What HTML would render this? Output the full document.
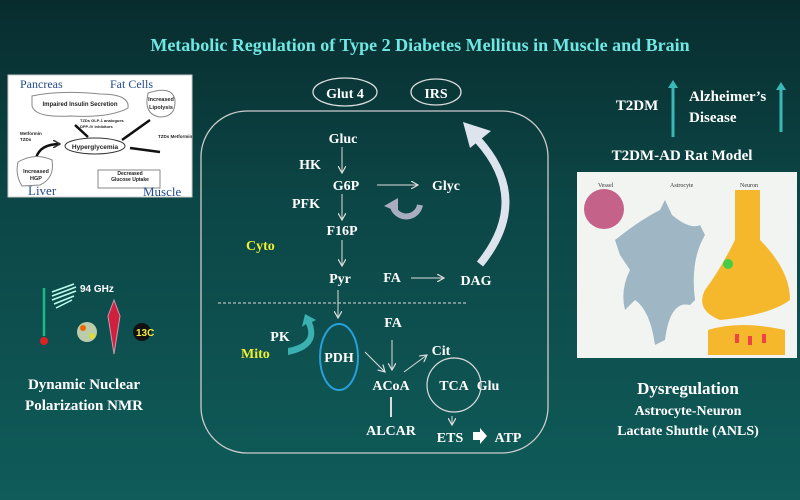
<!DOCTYPE html>
<html><head><meta charset="utf-8"><style>
html,body{margin:0;padding:0;width:800px;height:500px;overflow:hidden}
body{background:linear-gradient(180deg,#082c2e 0%,#0c4646 40%,#0f5c5a 100%)}
svg{display:block}
text{font-family:"Liberation Serif",serif;font-weight:bold;fill:#fff}
.s{font-family:"Liberation Sans",sans-serif}
</style></head><body>
<svg width="800" height="500" viewBox="0 0 800 500">
<defs>
<marker id="a" markerWidth="8" markerHeight="8" refX="7" refY="4" orient="auto" markerUnits="userSpaceOnUse"><path d="M0,0 L7,4 L0,8" fill="none" stroke="#ddd" stroke-width="1.2"/></marker>
<marker id="b" markerWidth="8" markerHeight="8" refX="7" refY="4" orient="auto" markerUnits="userSpaceOnUse"><path d="M0,0 L7,4 L0,8" fill="none" stroke="#333" stroke-width="1.5"/></marker>
</defs>
<text x="420" y="51" font-size="18" text-anchor="middle" style="fill:#6fe8e4">Metabolic Regulation of Type 2 Diabetes Mellitus in Muscle and Brain</text>

<!-- left image -->
<rect x="8" y="75" width="184" height="122" fill="#fff" stroke="#ccc"/>
<text x="20" y="88" font-size="12" style="fill:#234a8a;font-weight:normal">Pancreas</text>
<text x="110" y="88" font-size="12" style="fill:#234a8a;font-weight:normal">Fat Cells</text>
<path d="M32,96 Q60,90 100,94 Q130,94 128,108 Q110,118 70,116 Q35,118 32,106Z" fill="#fff" stroke="#888"/>
<text x="80" y="106" font-size="6" class="s" text-anchor="middle" style="fill:#222">Impaired Insulin Secretion</text>
<path d="M148,93 Q172,85 175,100 Q176,117 160,117 Q146,115 147,100Z" fill="#fff" stroke="#888"/>
<text x="161" y="101" font-size="5.5" class="s" text-anchor="middle" style="fill:#222">Increased</text>
<text x="161" y="109" font-size="5.5" class="s" text-anchor="middle" style="fill:#222">Lipolysis</text>
<ellipse cx="95" cy="146" rx="30" ry="8" fill="#fff" stroke="#333"/>
<text x="95" y="149" font-size="6.5" class="s" text-anchor="middle" style="fill:#222">Hyperglycemia</text>
<path d="M75,125 L88,137 M150,120 L122,140 M160,152 L130,148 M36,158 Q40,144 60,144" stroke="#111" stroke-width="2.5" fill="none" marker-end="url(#b)"/>
<text x="80" y="122" font-size="4" class="s" style="fill:#222">TZDs GLP-1 analogues</text>
<text x="80" y="128" font-size="4" class="s" style="fill:#222">DPP-IV inhibitors</text>
<text x="20" y="135" font-size="4.5" class="s" style="fill:#222">Metformin</text>
<text x="20" y="141" font-size="4.5" class="s" style="fill:#222">TZDs</text>
<text x="158" y="138" font-size="4.5" class="s" style="fill:#222">TZDs Metformin</text>
<path d="M18,162 Q35,152 52,160 Q55,178 40,185 L22,186 Q15,175 18,162Z" fill="#fff" stroke="#888"/>
<text x="36" y="173" font-size="5.5" class="s" text-anchor="middle" style="fill:#222">Increased</text>
<text x="36" y="180" font-size="5.5" class="s" text-anchor="middle" style="fill:#222">HGP</text>
<path d="M98,170 L160,170 L160,188 L98,188Z" fill="#fff" stroke="#888"/>
<text x="130" y="175" font-size="5" class="s" text-anchor="middle" style="fill:#222">Decreased</text>
<text x="130" y="181" font-size="5" class="s" text-anchor="middle" style="fill:#222">Glucose Uptake</text>
<text x="28" y="195" font-size="13" style="fill:#234a8a;font-weight:normal">Liver</text>
<text x="143" y="196" font-size="13" style="fill:#234a8a;font-weight:normal">Muscle</text>

<!-- DNP icons -->
<text x="80" y="292" font-size="10" class="s">94 GHz</text>
<path d="M52,292 L74,284 M52,296 L76,287 M52,300 L76,291 M54,304 L74,296 M56,308 L72,300" stroke="#bfe" stroke-width="1.5"/>
<line x1="44" y1="288" x2="44" y2="336" stroke="#1cb98a" stroke-width="2.5"/>
<circle cx="44" cy="341" r="4" fill="#d22"/>
<circle cx="87" cy="332" r="10" fill="#bca"/><circle cx="83" cy="328" r="3" fill="#e60"/><circle cx="92" cy="336" r="3" fill="#dd3"/>
<path d="M114,300 L120,316 L114,354 L108,316Z" fill="#d02040" stroke="#c9a"/>
<circle cx="142" cy="332" r="9" fill="#111"/>
<text x="136" y="336" font-size="10" class="s" style="fill:#ee4">13C</text>
<text x="84" y="389" font-size="15" text-anchor="middle">Dynamic Nuclear</text>
<text x="84" y="410" font-size="15" text-anchor="middle">Polarization NMR</text>

<!-- center -->
<ellipse cx="345" cy="92" rx="32" ry="14" fill="none" stroke="#ddd" stroke-width="1.3"/>
<text x="345" y="98" font-size="14" text-anchor="middle">Glut 4</text>
<ellipse cx="436" cy="92" rx="25" ry="13" fill="none" stroke="#ddd" stroke-width="1.3"/>
<text x="436" y="98" font-size="14" text-anchor="middle">IRS</text>
<rect x="201" y="111" width="347" height="342" rx="46" fill="none" stroke="#ccc" stroke-width="1.3"/>
<path d="M480,264 Q532,200 478,140" fill="none" stroke="#dde4ee" stroke-width="8"/>
<path d="M463,122 L470,148 L491,131Z" fill="#dde4ee"/>
<g font-size="14" text-anchor="middle">
<text x="343" y="143">Gluc</text>
<text x="346" y="190">G6P</text>
<text x="446" y="190">Glyc</text>
<text x="342" y="235">F16P</text>
<text x="340" y="283">Pyr</text>
<text x="392" y="282">FA</text>
<text x="476" y="285">DAG</text>
<text x="310" y="169">HK</text>
<text x="306" y="208">PFK</text>
<text x="393" y="327">FA</text>
<text x="280" y="341">PK</text>
<text x="339" y="362">PDH</text>
<text x="391" y="390">ACoA</text>
<text x="441" y="355">Cit</text>
<text x="454" y="390">TCA</text>
<text x="488" y="390">Glu</text>
<text x="391" y="435">ALCAR</text>
<text x="450" y="442">ETS</text>
<text x="508" y="442">ATP</text>
</g>
<text x="246" y="250" font-size="14" style="fill:#ee3">Cyto</text>
<text x="241" y="358" font-size="14" style="fill:#ee3">Mito</text>
<g stroke="#ddd" stroke-width="1" fill="none" marker-end="url(#a)">
<line x1="342" y1="147" x2="342" y2="173"/>
<line x1="342" y1="194" x2="342" y2="220"/>
<line x1="342" y1="240" x2="342" y2="266"/>
<line x1="377" y1="185" x2="418" y2="185"/>
<line x1="411" y1="278" x2="444" y2="278"/>
<line x1="338" y1="290" x2="338" y2="318"/>
<line x1="365" y1="352" x2="385" y2="372"/>
<line x1="392" y1="340" x2="392" y2="370"/>
<line x1="404" y1="372" x2="427" y2="355"/>
<line x1="452" y1="416" x2="452" y2="425"/>
</g>
<path d="M391,397 L391,417" stroke="#ddd" stroke-width="2"/>
<line x1="218" y1="303" x2="468" y2="303" stroke="#ddd" stroke-dasharray="3,2"/>
<path d="M393,207 A 14 14 0 0 0 420,205" fill="none" stroke="#a8aec0" stroke-width="6"/>
<path d="M384,206 L398,198 L398,212Z" fill="#a8aec0"/>
<ellipse cx="339" cy="357" rx="19" ry="33" fill="none" stroke="#2aa0d8" stroke-width="2"/>
<circle cx="454" cy="385" r="27" fill="none" stroke="#ddd" stroke-width="1.2"/>
<path d="M288,355 Q322,348 312,322 L316,320 L305,314 L302,327 L306,324 Q315,343 288,348Z" fill="#3ab0b0"/>
<path d="M473,432 L480,432 L480,428 L487,436 L480,444 L480,440 L473,440Z" fill="#fff"/>

<!-- right -->
<text x="637" y="110" font-size="15" text-anchor="middle">T2DM</text>
<path d="M673,137 L673,86" stroke="#3ab8b8" stroke-width="3"/><path d="M668,88 L673,80 L678,88Z" fill="#3ab8b8"/>
<text x="689" y="101" font-size="15">Alzheimer’s</text>
<text x="689" y="122" font-size="15">Disease</text>
<path d="M781,132 L781,88" stroke="#3ab8b8" stroke-width="3"/><path d="M776,90 L781,82 L786,90Z" fill="#3ab8b8"/>
<text x="682" y="160" font-size="15" text-anchor="middle">T2DM-AD Rat Model</text>
<rect x="577" y="172" width="220" height="186" fill="#f2f4f2"/>
<text x="598" y="187" font-size="6" style="fill:#333;font-weight:normal">Vessel</text>
<text x="670" y="187" font-size="6" style="fill:#333;font-weight:normal">Astrocyte</text>
<text x="740" y="187" font-size="6" style="fill:#333;font-weight:normal">Neuron</text>
<circle cx="604" cy="209" r="20" fill="#c5628a"/>
<path d="M615,240 Q640,220 660,210 L665,200 L672,215 Q690,230 700,225 L705,235 Q690,260 695,300 L690,305 Q670,300 665,340 L655,345 Q650,310 635,300 L625,310 Q620,290 630,270 L620,255Z" fill="#9fb6c4"/>
<path d="M735,190 L760,190 L760,240 Q790,270 790,300 Q770,315 720,320 Q695,310 705,290 Q720,270 735,240Z" fill="#f5b82c"/>
<path d="M708,330 Q740,320 785,330 L785,355 L708,355Z" fill="#f5b82c"/>
<rect x="735" y="334" width="4" height="9" fill="#e44"/><rect x="748" y="336" width="4" height="9" fill="#e44"/><rect x="762" y="334" width="4" height="9" fill="#e44"/>
<circle cx="728" cy="264" r="5" fill="#4c4"/>
<text x="688" y="394" font-size="17" text-anchor="middle">Dysregulation</text>
<text x="688" y="415" font-size="14" text-anchor="middle">Astrocyte-Neuron</text>
<text x="688" y="435" font-size="14" text-anchor="middle">Lactate Shuttle (ANLS)</text>
</svg>
</body></html>
